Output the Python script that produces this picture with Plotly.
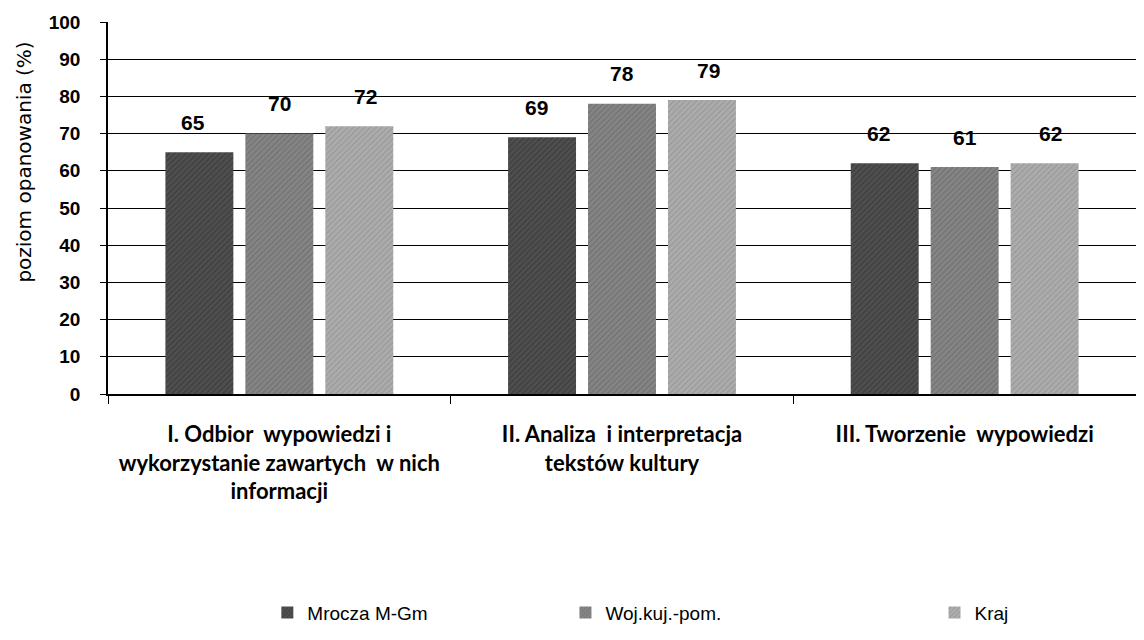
import plotly.graph_objects as go

categories = [
    "I. Odbior  wypowiedzi i<br>wykorzystanie zawartych  w nich<br>informacji",
    "II. Analiza  i interpretacja<br>tekstów kultury",
    "III. Tworzenie  wypowiedzi",
]
series_names = ["Mrocza M-Gm", "Woj.kuj.-pom.", "Kraj"]
mrocza = [65, 69, 62]
woj = [70, 78, 61]
kraj = [72, 79, 62]
y_ticks = [0, 10, 20, 30, 40, 50, 60, 70, 80, 90, 100]
y_title = "poziom opanowania (%)"

values = [mrocza, woj, kraj]
colors = ["#4f4f4f", "#858585", "#acacac"]
fg = ["#222222", "#555555", "#7a7a7a"]
legend_ids = ["legend", "legend2", "legend3"]
legend_x = [0.155, 0.445, 0.804]

fig = go.Figure()
for name, vals, c, f, lid in zip(series_names, values, colors, fg, legend_ids):
    fig.add_trace(go.Bar(
        name=name, x=categories, y=vals,
        marker=dict(color=c, line=dict(width=0),
                    pattern=dict(shape="/", fgcolor=f, bgcolor=c, size=4, solidity=0.25)),
        legend=lid,
    ))

# value labels
offsets = [-86, 0, 86]
for vals, off in zip(values, offsets):
    for cat, v in zip(categories, vals):
        fig.add_annotation(x=cat, y=v, text="<b>%d</b>" % v, showarrow=False,
                           xshift=off, yshift=30, yanchor="middle",
                           font=dict(family="Liberation Sans, Arial", size=21, color="black"))

# y-axis title
fig.add_annotation(xref="paper", yref="paper", x=0, y=0.622, xshift=-84,
                   text=y_title, textangle=-90, showarrow=False,
                   xanchor="center", yanchor="middle",
                   font=dict(family="DejaVu Sans, Verdana", size=20, color="black"))

lab_font = dict(family="Liberation Sans, Arial", size=19, color="black")
leg = dict(y=-0.588, xanchor="left", yanchor="middle", font=lab_font,
           bgcolor="rgba(0,0,0,0)", itemwidth=30)
fig.update_layout(
    width=1128, height=624,
    margin=dict(l=100, r=0, t=14, b=234),
    paper_bgcolor="white", plot_bgcolor="white",
    barmode="group", bargap=0.30, bargroupgap=0.15,
    showlegend=True,
    legend=dict(x=legend_x[0], **leg),
    legend2=dict(x=legend_x[1], **leg),
    legend3=dict(x=legend_x[2], **leg),
    xaxis=dict(
        showline=True, linecolor="black", linewidth=1.5,
        ticks="outside", tickson="boundaries", ticklen=8, tickcolor="black", tickwidth=1.2,
        tickfont=dict(family="Lato, Open Sans, sans-serif", size=22, color="black", weight="bold"),
        ticklabelstandoff=20,
        showgrid=False,
    ),
    yaxis=dict(
        range=[0, 100], tickvals=y_ticks,
        showline=True, linecolor="black", linewidth=1.5,
        ticks="outside", ticklen=6, tickcolor="black",
        showgrid=True, gridcolor="black", gridwidth=1.4,
        zeroline=False,
        tickfont=dict(family="Liberation Sans, Arial", size=19, color="black", weight="bold"),
        ticklabelstandoff=16,
    ),
)

fig.write_html("out.html")
